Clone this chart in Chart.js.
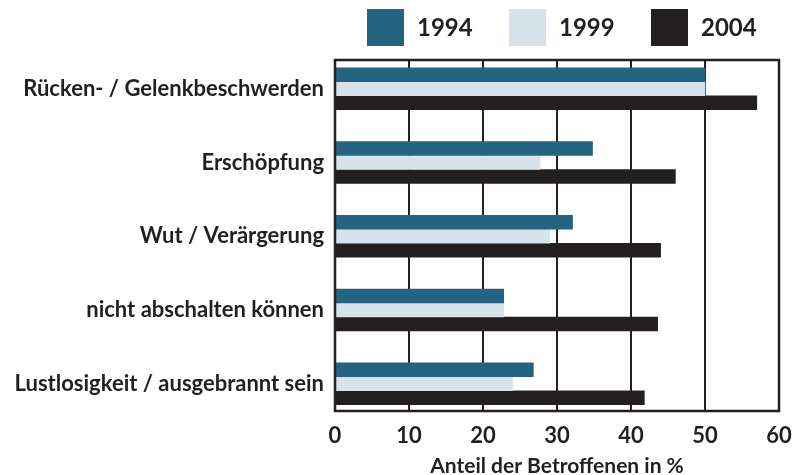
<!DOCTYPE html>
<html>
<head>
<meta charset="utf-8">
<script src="https://cdn.jsdelivr.net/npm/chart.js@4"></script>
<style>
  html, body { margin: 0; padding: 0; background: #ffffff; }
  #wrap { width: 793px; height: 475px; }
</style>
</head>
<body>
<div id="wrap"><canvas id="c" width="793" height="475"></canvas></div>
<script>
const categories = [
  'Rücken- / Gelenkbeschwerden',
  'Erschöpfung',
  'Wut / Verärgerung',
  'nicht abschalten können',
  'Lustlosigkeit / ausgebrannt sein'
];
const seriesNames = ['1994', '1999', '2004'];
const values1994 = [50, 34.8, 32.1, 22.8, 26.8];
const values1999 = [50, 27.7, 29.0, 22.8, 24.0];
const values2004 = [57, 46.0, 44.0, 43.6, 41.8];
const xTicks = [0, 10, 20, 30, 40, 50, 60];
const xTitle = 'Anteil der Betroffenen in %';

const colors = ['#246381', '#d6e3eb', '#231f20'];
const ink = '#231f20';
const FONT = 'Lato, "Noto Sans", sans-serif';

function toPoints(arr) { return arr.map((v, i) => ({ x: v, y: i })); }

const frame = {
  id: 'frame',
  afterDatasetsDraw(chart) {
    const a = chart.chartArea, ctx = chart.ctx;
    ctx.save();
    ctx.strokeStyle = ink;
    ctx.lineWidth = 2.5;
    ctx.strokeRect(a.left, a.top, a.right - a.left, a.bottom - a.top);
    ctx.restore();
  }
};

const topLegend = {
  id: 'topLegend',
  afterDraw(chart) {
    const ctx = chart.ctx, a = chart.chartArea;
    const box = 37, gapText = 13, step = 142;
    const startX = a.left + 32, y = 9;
    ctx.save();
    ctx.font = 'bold 24px ' + FONT;
    ctx.textBaseline = 'middle';
    ctx.textAlign = 'left';
    chart.data.datasets.forEach((ds, i) => {
      const x = startX + i * step;
      ctx.fillStyle = ds.backgroundColor;
      ctx.fillRect(x, y, box, box);
      ctx.fillStyle = ink;
      ctx.fillText(ds.label, x + box + gapText, y + box / 2 + 1);
    });
    ctx.restore();
  }
};

new Chart(document.getElementById('c'), {
  type: 'bar',
  data: {
    datasets: [
      { label: seriesNames[0], data: toPoints(values1994), backgroundColor: colors[0] },
      { label: seriesNames[1], data: toPoints(values1999), backgroundColor: colors[1] },
      { label: seriesNames[2], data: toPoints(values2004), backgroundColor: colors[2] }
    ]
  },
  options: {
    indexAxis: 'y',
    responsive: false,
    animation: false,
    barThickness: 14,
    layout: { padding: { top: 60, right: 2, left: 0, bottom: 0 } },
    plugins: { legend: { display: false }, tooltip: { enabled: false } },
    scales: {
      x: {
        type: 'linear',
        min: 0, max: 60,
        afterBuildTicks: (s) => { s.ticks = xTicks.map(v => ({ value: v })); },
        afterFit: (s) => { s.height = 64; s.paddingRight = 14; s.paddingLeft = 0; },
        grid: { color: ink, lineWidth: 2, drawTicks: false },
        border: { display: true, color: ink, width: 2 },
        ticks: { color: ink, font: { family: FONT, size: 22, weight: 'bold' }, padding: 12 },
        title: {
          display: true, text: xTitle, color: ink,
          font: { family: FONT, size: 21, weight: 'bold', lineHeight: 1.0 },
          padding: { top: 0, bottom: -2 }
        }
      },
      y: {
        type: 'linear',
        reverse: true,
        offset: false,
        bounds: 'data',
        min: -0.39, max: 4.37,
        afterBuildTicks: (s) => { s.ticks = categories.map((_, i) => ({ value: i })); },
        afterFit: (s) => { s.width = 335; },
        grid: { display: false, drawTicks: false },
        border: { display: false },
        ticks: {
          color: ink,
          font: { family: FONT, size: 22, weight: 'bold' },
          padding: 11,
          callback: (v) => categories[v]
        }
      }
    }
  },
  plugins: [frame, topLegend]
});
</script>
</body>
</html>
